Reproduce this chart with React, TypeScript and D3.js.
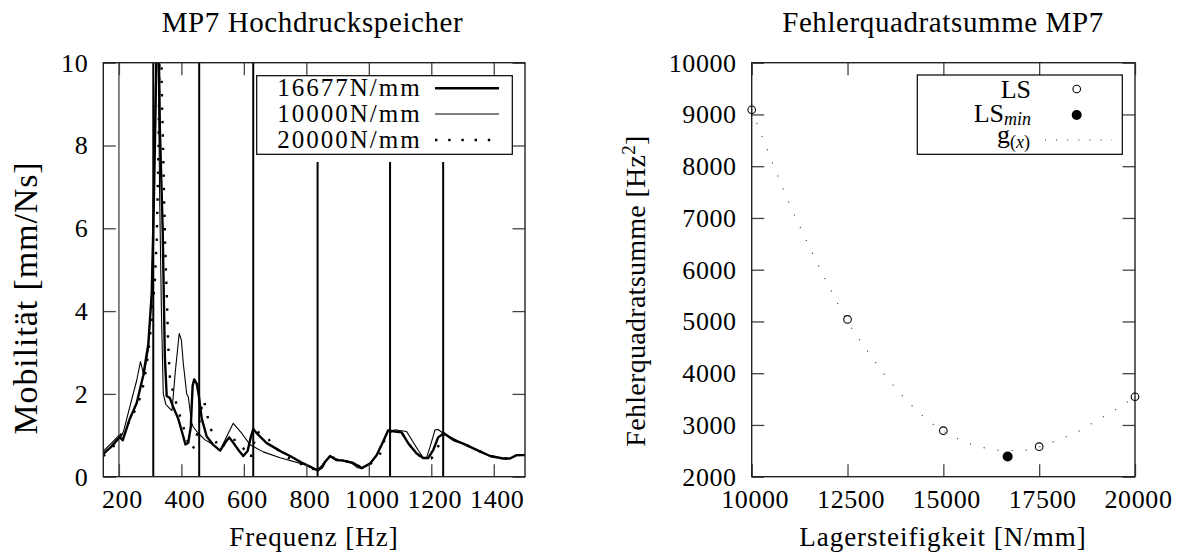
import React, { useRef, useEffect } from 'react';
import * as d3 from 'd3';

const FONT = '"Liberation Serif", "DejaVu Serif", serif';

// left chart: mobility over frequency for three bearing stiffnesses
const k16677Hz = [150, 175, 198, 203, 212, 235, 257, 278, 294, 305, 310, 315, 321, 325, 331, 340, 347, 353, 363, 374, 390, 406, 413, 422, 430, 436, 441, 449, 456, 465, 481, 502, 524, 540, 553, 571, 585, 598, 612, 622, 630, 641, 652, 673, 694, 726, 748, 790, 810, 836, 850, 860, 876, 897, 918, 950, 977, 1004, 1025, 1046, 1062, 1084, 1105, 1126, 1153, 1174, 1190, 1206, 1222, 1240, 1270, 1302, 1345, 1388, 1430, 1452, 1473, 1500];
const k16677Val = [0.55, 0.72, 0.92, 0.95, 0.88, 1.4, 1.78, 2.45, 3.2, 4.43, 6.0, 7.9, 10.5, 12, 8.45, 6.0, 2.9, 1.95, 1.9, 1.68, 1.4, 0.97, 0.78, 0.82, 1.2, 2.2, 2.35, 2.25, 1.95, 1.41, 0.97, 0.77, 0.63, 0.82, 0.95, 0.77, 0.62, 0.5, 0.62, 0.95, 1.15, 1.05, 0.97, 0.81, 0.72, 0.58, 0.5, 0.32, 0.25, 0.15, 0.22, 0.36, 0.5, 0.4, 0.39, 0.33, 0.21, 0.32, 0.52, 0.85, 1.12, 1.09, 1.07, 0.81, 0.56, 0.45, 0.45, 0.64, 0.95, 1.05, 0.89, 0.8, 0.65, 0.5, 0.44, 0.44, 0.52, 0.52];

const k10000Hz = [150, 175, 200, 206, 215, 235, 257, 269, 280, 294, 305, 312, 318, 322, 326, 330, 336, 342, 350, 362, 370, 380, 393, 400, 406, 417, 422, 433, 438, 454, 476, 502, 524, 545, 566, 593, 620, 662, 716, 801, 836, 860, 876, 908, 940, 961, 977, 1004, 1025, 1046, 1062, 1089, 1121, 1158, 1175, 1185, 1196, 1212, 1222, 1238, 1281, 1302, 1345, 1388, 1430, 1452, 1473, 1500];
const k10000Val = [0.62, 0.8, 1.0, 0.95, 1.1, 1.69, 2.33, 2.78, 2.45, 3.06, 4.43, 6.84, 10, 12, 10, 7.0, 4.0, 2.0, 1.75, 1.65, 1.6, 2.5, 3.46, 3.3, 2.74, 2.0, 1.93, 1.3, 1.2, 1.05, 0.89, 0.77, 0.64, 0.97, 1.29, 1.05, 0.77, 0.6, 0.46, 0.28, 0.17, 0.35, 0.48, 0.4, 0.36, 0.23, 0.19, 0.3, 0.52, 0.85, 1.1, 1.13, 1.09, 0.64, 0.45, 0.46, 0.72, 1.13, 1.14, 1.05, 0.88, 0.8, 0.65, 0.5, 0.44, 0.44, 0.52, 0.52];

const k20000Hz = [150, 175, 193, 214, 235, 257, 273, 283, 294, 305, 315, 321, 327, 331, 334, 337, 340, 344, 348, 353, 358, 363, 374, 390, 406, 422, 433, 443, 452, 459, 468, 472, 481, 491, 502, 524, 550, 577, 603, 622, 632, 641, 650, 666, 678, 705, 737, 774, 810, 836, 860, 876, 918, 950, 977, 1004, 1025, 1041, 1052, 1065, 1105, 1126, 1153, 1174, 1200, 1217, 1228, 1240, 1270, 1302, 1345, 1388, 1430, 1452, 1473, 1500];
const k20000Val = [0.5, 0.65, 0.85, 1.1, 1.35, 1.69, 2.01, 2.42, 2.98, 3.78, 4.75, 5.72, 8, 11, 12, 9.4, 8.45, 7.0, 5.56, 4.43, 3.14, 2.42, 2.01, 1.61, 1.21, 0.81, 0.64, 0.76, 1.1, 1.37, 1.85, 1.85, 1.53, 1.25, 0.95, 0.66, 0.89, 0.89, 0.64, 0.46, 0.8, 1.09, 1.06, 0.95, 0.91, 0.67, 0.48, 0.34, 0.22, 0.15, 0.34, 0.48, 0.39, 0.34, 0.22, 0.3, 0.45, 0.6, 0.97, 1.1, 1.07, 0.81, 0.56, 0.45, 0.44, 0.6, 0.89, 1.02, 0.89, 0.8, 0.65, 0.5, 0.44, 0.44, 0.52, 0.52];

const freqTicks = [200, 400, 600, 800, 1000, 1200, 1400];
const mobTicks = [0, 2, 4, 6, 8, 10];
const modesFull = [310, 457, 630];
const modesShort = [836, 1068, 1238];
const modeShortTop = 7.6;
const refLineHz = [200];
const leftLegend = ['16677N/mm', '10000N/mm', '20000N/mm'];

// right chart: sum of squared errors over bearing stiffness
const lsStiffness = [10000, 12500, 15000, 17500, 20000];
const lsError = [9090, 5040, 2890, 2580, 3545];
const lsMinStiffness = [16677];
const lsMinError = [2390];
const fitStiffness = [10000, 10500, 11000, 11500, 12000, 12500, 13000, 13500, 14000, 14500, 15000, 15500, 16000, 16500, 17000, 17500, 18000, 18500, 19000, 19500, 20000];
const fitError = [9090, 8140, 7250, 6450, 5700, 5000, 4450, 3940, 3510, 3150, 2880, 2690, 2570, 2510, 2505, 2575, 2715, 2865, 3085, 3300, 3546];
const stiffTicks = [10000, 12500, 15000, 17500, 20000];
const errTicks = [2000, 3000, 4000, 5000, 6000, 7000, 8000, 9000, 10000];

const W = 1182;
const H = 555;

const frame = (g, x0, x1, y0, y1, xs, ys, xt, yt) => {
  const tick = 12.5;
  const fmt = d3.format('d');
  g.append('g').attr('transform', `translate(0,${y1})`)
    .call(d3.axisBottom(xs).tickValues(xt).tickSizeInner(-tick).tickSizeOuter(0).tickPadding(13).tickFormat(fmt))
    .call(a => a.select('.domain').remove())
    .call(a => a.selectAll('.tick text').attr('dx', 3));
  g.append('g').attr('transform', `translate(0,${y0})`)
    .call(d3.axisTop(xs).tickValues(xt).tickSizeInner(-tick).tickSizeOuter(0).tickFormat(() => ''))
    .call(a => a.select('.domain').remove());
  g.append('g').attr('transform', `translate(${x0},0)`)
    .call(d3.axisLeft(ys).tickValues(yt).tickSizeInner(-tick).tickSizeOuter(0).tickPadding(15).tickFormat(fmt))
    .call(a => a.select('.domain').remove());
  g.append('g').attr('transform', `translate(${x1},0)`)
    .call(d3.axisRight(ys).tickValues(yt).tickSizeInner(-tick).tickSizeOuter(0).tickFormat(() => ''))
    .call(a => a.select('.domain').remove());
  g.selectAll('.tick line').attr('stroke', '#444').attr('stroke-width', 1.3);
  g.selectAll('.tick text').attr('font-family', FONT).attr('font-size', 26).attr('fill', '#000').attr('letter-spacing', 0.6);
  g.selectAll('g').attr('font-family', null).attr('font-size', null);
  g.append('rect').attr('x', x0).attr('y', y0).attr('width', x1 - x0).attr('height', y1 - y0)
    .attr('fill', 'none').attr('stroke', '#222').attr('stroke-width', 1.4);
};

const App = () => {
  const ref = useRef(null);

  useEffect(() => {
    const svg = d3.select(ref.current);
    svg.selectAll('*').remove();
    svg.append('rect').attr('width', W).attr('height', H).attr('fill', '#fff');

    // ---------- left chart ----------
    const L = { x0: 103.3, x1: 525, y0: 62.7, y1: 476.7 };
    const x = d3.scaleLinear().domain([150, 1500]).range([L.x0, L.x1]);
    const y = d3.scaleLinear().domain([0, 10]).range([L.y1, L.y0]);
    const gl = svg.append('g');

    svg.append('clipPath').attr('id', 'clipL').append('rect')
      .attr('x', L.x0).attr('y', L.y0).attr('width', L.x1 - L.x0).attr('height', L.y1 - L.y0);

    gl.selectAll('.ref').data(refLineHz).join('line')
      .attr('x1', d => x(d)).attr('x2', d => x(d)).attr('y1', y(0)).attr('y2', y(10))
      .attr('stroke', '#666').attr('stroke-width', 1.6);
    gl.selectAll('.mf').data(modesFull).join('line')
      .attr('x1', d => x(d)).attr('x2', d => x(d)).attr('y1', y(0)).attr('y2', y(10))
      .attr('stroke', '#000').attr('stroke-width', 2);
    gl.selectAll('.ms').data(modesShort).join('line')
      .attr('x1', d => x(d)).attr('x2', d => x(d)).attr('y1', y(0)).attr('y2', y(modeShortTop))
      .attr('stroke', '#000').attr('stroke-width', 2);

    const line = d3.line().x(d => x(d[0])).y(d => y(d[1]));
    const curves = [
      { hz: k10000Hz, v: k10000Val, w: 1.1, dash: null },
      { hz: k20000Hz, v: k20000Val, w: 2.4, dash: '2.4 11' },
      { hz: k16677Hz, v: k16677Val, w: 2.4, dash: null },
    ];
    curves.forEach(c => {
      gl.append('path').datum(c.hz.map((h, i) => [h, c.v[i]]))
        .attr('clip-path', 'url(#clipL)')
        .attr('fill', 'none').attr('stroke', '#000').attr('stroke-width', c.w)
        .attr('stroke-linejoin', 'round')
        .attr('stroke-dasharray', c.dash).attr('d', line);
    });

    frame(gl, L.x0, L.x1, L.y0, L.y1, x, y, freqTicks, mobTicks);

    // legend left
    const lg = gl.append('g');
    lg.append('rect').attr('x', 256.7).attr('y', 75.7).attr('width', 255.6).attr('height', 78.6)
      .attr('fill', '#fff').attr('stroke', '#000').attr('stroke-width', 1.2);
    const legY = [88.3, 114, 140];
    const legStyle = [{ w: 2.4, dash: null }, { w: 1.1, dash: null }, { w: 2.4, dash: '2.4 10.8' }];
    leftLegend.forEach((t, i) => {
      lg.append('text').attr('x', 421.7).attr('y', legY[i] + 8)
        .attr('text-anchor', 'end').attr('font-family', FONT).attr('font-size', 25).attr('letter-spacing', 2)
        .text(t);
      lg.append('line').attr('x1', 435).attr('x2', 499).attr('y1', legY[i]).attr('y2', legY[i])
        .attr('stroke', '#000').attr('stroke-width', legStyle[i].w).attr('stroke-dasharray', legStyle[i].dash);
    });

    gl.append('text').attr('x', 312.5).attr('y', 31.5).attr('text-anchor', 'middle')
      .attr('font-family', FONT).attr('font-size', 29).attr('letter-spacing', 0.6).text('MP7 Hochdruckspeicher');
    gl.append('text').attr('x', 314).attr('y', 546).attr('text-anchor', 'middle')
      .attr('font-family', FONT).attr('font-size', 27).attr('letter-spacing', 1).text('Frequenz [Hz]');
    gl.append('text').attr('transform', 'translate(37,298) rotate(-90)').attr('text-anchor', 'middle')
      .attr('font-family', FONT).attr('font-size', 34).attr('letter-spacing', 0.9)
      .text('Mobilität [mm/Ns]');

    // ---------- right chart ----------
    const R = { x0: 751.7, x1: 1135, y0: 62.7, y1: 476.7 };
    const xr = d3.scaleLinear().domain([10000, 20000]).range([R.x0, R.x1]);
    const yr = d3.scaleLinear().domain([2000, 10000]).range([R.y1, R.y0]);
    const gr = svg.append('g');

    frame(gr, R.x0, R.x1, R.y0, R.y1, xr, yr, stiffTicks, errTicks);

    const fit = d3.line().x(d => xr(d[0])).y(d => yr(d[1])).curve(d3.curveMonotoneX);
    gr.append('path').datum(fitStiffness.map((s, i) => [s, fitError[i]]))
      .attr('fill', 'none').attr('stroke', '#333').attr('stroke-width', 1.1)
      .attr('stroke-dasharray', '1.1 13').attr('d', fit);

    gr.selectAll('.ls').data(lsStiffness.map((s, i) => [s, lsError[i]])).join('circle')
      .attr('cx', d => xr(d[0])).attr('cy', d => yr(d[1])).attr('r', 3.8)
      .attr('fill', 'none').attr('stroke', '#000').attr('stroke-width', 1.1);
    gr.selectAll('.lsmin').data(lsMinStiffness.map((s, i) => [s, lsMinError[i]])).join('circle')
      .attr('cx', d => xr(d[0])).attr('cy', d => yr(d[1])).attr('r', 5)
      .attr('fill', '#000');

    // legend right
    const rg = gr.append('g');
    rg.append('rect').attr('x', 917.3).attr('y', 75).attr('width', 205).attr('height', 79.3)
      .attr('fill', '#fff').attr('stroke', '#000').attr('stroke-width', 1.2);
    rg.append('text').attr('x', 1031).attr('y', 98).attr('text-anchor', 'end')
      .attr('font-family', FONT).attr('font-size', 26).text('LS');
    rg.append('circle').attr('cx', 1076.7).attr('cy', 89).attr('r', 3.8)
      .attr('fill', 'none').attr('stroke', '#000').attr('stroke-width', 1.1);
    const t2 = rg.append('text').attr('x', 1031).attr('y', 121.5).attr('text-anchor', 'end')
      .attr('font-family', FONT).attr('font-size', 26);
    t2.append('tspan').text('LS');
    t2.append('tspan').attr('dy', 3).attr('font-size', 18).attr('font-style', 'italic').text('min');
    rg.append('circle').attr('cx', 1076.7).attr('cy', 115).attr('r', 5).attr('fill', '#000');
    const t3 = rg.append('text').attr('x', 1030).attr('y', 143).attr('text-anchor', 'end')
      .attr('font-family', FONT).attr('font-size', 26);
    t3.append('tspan').text('g');
    t3.append('tspan').attr('dy', 5).attr('font-size', 18).text('(');
    t3.append('tspan').attr('font-size', 18).attr('font-style', 'italic').text('x');
    t3.append('tspan').attr('font-size', 18).text(')');
    rg.append('line').attr('x1', 1045).attr('x2', 1112).attr('y1', 140).attr('y2', 140)
      .attr('stroke', '#333').attr('stroke-width', 1.1).attr('stroke-dasharray', '1.1 10');

    gr.append('text').attr('x', 943).attr('y', 31.5).attr('text-anchor', 'middle')
      .attr('font-family', FONT).attr('font-size', 29).attr('letter-spacing', 0.6).text('Fehlerquadratsumme MP7');
    gr.append('text').attr('x', 943).attr('y', 546).attr('text-anchor', 'middle')
      .attr('font-family', FONT).attr('font-size', 27).attr('letter-spacing', 1).text('Lagersteifigkeit [N/mm]');
    const yr2 = gr.append('text').attr('transform', 'translate(645,291) rotate(-90)').attr('text-anchor', 'middle')
      .attr('font-family', FONT).attr('font-size', 28).attr('letter-spacing', 0.3);
    yr2.append('tspan').text('Fehlerquadratsumme [Hz');
    yr2.append('tspan').attr('dy', -10).attr('font-size', 19).text('2');
    yr2.append('tspan').attr('dy', 10).text(']');
  }, []);

  return (
    <svg ref={ref} width={W} height={H} viewBox={`0 0 ${W} ${H}`}
      style={{ position: 'absolute', left: 0, top: 0, display: 'block' }} />
  );
};

export default App;
